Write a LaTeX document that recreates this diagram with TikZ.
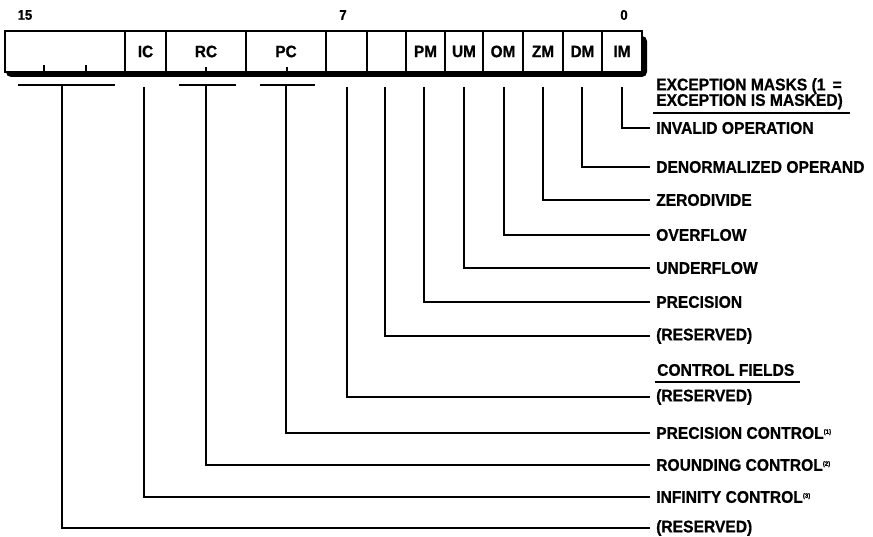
\documentclass[tikz,border=0pt]{standalone}
\usepackage{fontspec}
\setmainfont{Liberation Sans}
\newfontfamily\hv[FakeStretch=0.93,FakeBold=0.8]{Liberation Sans}
\begin{document}
\begin{tikzpicture}[x=1pt,y=-1pt,
  txt/.style={font=\hv\bfseries\fontsize{16.8}{17}\selectfont},
  lbl/.style={txt,anchor=west,inner xsep=6pt,inner ysep=0pt},
  head/.style={txt,anchor=west,inner sep=0pt,align=left},
  cell/.style={draw,line width=1.2pt,minimum height=41pt,inner sep=0pt,
    font=\hv\bfseries\fontsize{16.5}{17}\selectfont},
  bitno/.style={font=\hv\bfseries\fontsize{14}{14}\selectfont,inner sep=0pt},
  lead/.style={line width=1.4pt},
]
\useasboundingbox (0,0) rectangle (873,537);

% shadowed register outline
\fill[rounded corners=5pt] (6,36) rectangle (647,77);
\fill[white] (5,31) rectangle (642,72);

% register fields, bit 15 on the left, bit 0 on the right
\node[cell,minimum width=120pt] (RES)  at (65,51.5)  {};
\node[cell,minimum width=41pt]  (IC)   at (145.5,51.5) {IC};
\node[cell,minimum width=80pt]  (RC)   at (206,51.5) {RC};
\node[cell,minimum width=80pt]  (PC)   at (286,51.5) {PC};
\node[cell,minimum width=41pt]  (B7)   at (346.5,51.5) {};
\node[cell,minimum width=39pt]  (B6)   at (386.5,51.5) {};
\node[cell,minimum width=39pt]  (PM)   at (425.5,51.5) {PM};
\node[cell,minimum width=38pt]  (UM)   at (464,51.5) {UM};
\node[cell,minimum width=40pt]  (OM)   at (503,51.5) {OM};
\node[cell,minimum width=40pt]  (ZM)   at (543,51.5) {ZM};
\node[cell,minimum width=39pt]  (DM)   at (582.5,51.5) {DM};
\node[cell,minimum width=40pt]  (IM)   at (622,51.5) {IM};
\draw[line width=1.5pt] (5,31) rectangle (642,72);

% bit ticks inside the multi-bit fields
\draw[line width=1.2pt] (44,72) -- (44,65) (86,72) -- (86,65)
  (206,72) -- (206,67) (287,72) -- (287,67);

% bit numbers
\node[bitno] (n15) at (25,15) {15};
\node[bitno] (n7)  at (343,15) {7};
\node[bitno] (n0)  at (624,15) {0};

% brackets and stems under the fields
\draw[lead] (18,85) -- (115,85);
\draw[lead] (179,85) -- (236,85);
\draw[lead] (260,85) -- (315,85);
\coordinate (sRES) at (62,85);
\coordinate (sIC)  at (144,87);
\coordinate (sRC)  at (206,85);
\coordinate (sPC)  at (286,85);
\coordinate (sB7)  at (347,87);
\coordinate (sB6)  at (385,87);
\coordinate (sPM)  at (424,87);
\coordinate (sUM)  at (464,87);
\coordinate (sOM)  at (504,87);
\coordinate (sZM)  at (543,87);
\coordinate (sDM)  at (582,87);
\coordinate (sIM)  at (622,87);

% headings
\node[head] (hEM1) at (656,86) {EXCEPTION MASKS (1 \,=};
\node[head] (hEM2) at (656,101.5) {EXCEPTION IS MASKED)};
\draw[lead] (653,113) -- (850,113);
\node[head] (hCF) at (657,370) {CONTROL FIELDS};
\draw[lead] (655,382) -- (800,382);

% field descriptions
\newcommand{\fn}[1]{\raisebox{5pt}{\fontsize{6.5}{6.5}\selectfont(#1)}}
\node[lbl] (lIM)  at (650,128) {INVALID OPERATION};
\node[lbl] (lDM)  at (650,167) {DENORMALIZED OPERAND};
\node[lbl] (lZM)  at (650,200) {ZERODIVIDE};
\node[lbl] (lOM)  at (650,235) {OVERFLOW};
\node[lbl] (lUM)  at (650,268) {UNDERFLOW};
\node[lbl] (lPM)  at (650,302) {PRECISION};
\node[lbl] (lB6)  at (650,336) {(RESERVED)};
\node[lbl] (lB7)  at (650,397) {(RESERVED)};
\node[lbl] (lPC)  at (650,433) {PRECISION CONTROL\fn{1}};
\node[lbl] (lRC)  at (650,465) {ROUNDING CONTROL\fn{2}};
\node[lbl] (lIC)  at (650,497) {INFINITY CONTROL\fn{3}};
\node[lbl] (lRES) at (650,528) {(RESERVED)};

% leader lines
\foreach \f in {IM,DM,ZM,OM,UM,PM,B6,B7,PC,RC,IC,RES}
  \draw[lead] (s\f) |- (l\f.west);
\end{tikzpicture}
\end{document}
